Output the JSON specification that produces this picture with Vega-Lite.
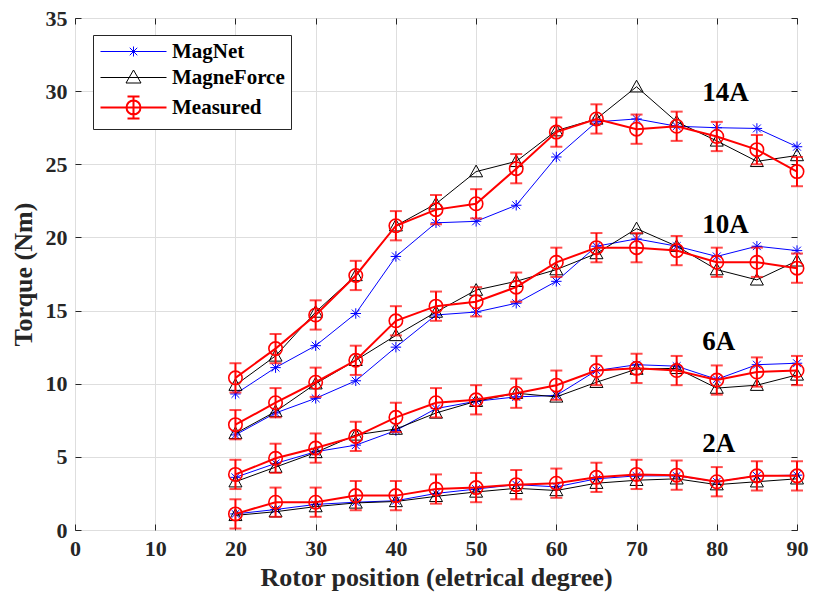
{
  "$schema": "https://vega.github.io/schema/vega-lite/v6.json",
  "width": 722,
  "height": 512,
  "autosize": {"type": "none"},
  "padding": {"left": 75, "top": 18, "right": 20, "bottom": 72},
  "background": "white",
  "config": {
    "view": {"stroke": "#262626", "strokeWidth": 1},
    "axis": {
      "labelFont": "Liberation Serif",
      "labelFontWeight": "bold",
      "labelFontSize": 22,
      "labelColor": "#262626",
      "titleFont": "Liberation Serif",
      "titleFontWeight": "bold",
      "titleFontSize": 26,
      "titleColor": "#262626",
      "gridColor": "#dedede",
      "gridWidth": 1,
      "domainColor": "#262626",
      "tickColor": "#262626"
    }
  },
  "datasets": {
    "torque": [
      {"c": "14A", "x": 20, "MagNet": 9.3, "MagneForce": 9.9, "Measured": 10.4, "e": 1.0},
      {"c": "14A", "x": 25, "MagNet": 11.1, "MagneForce": 11.9, "Measured": 12.4, "e": 1.0},
      {"c": "14A", "x": 30, "MagNet": 12.6, "MagneForce": 14.9, "Measured": 14.7, "e": 1.0},
      {"c": "14A", "x": 35, "MagNet": 14.8, "MagneForce": 17.4, "Measured": 17.4, "e": 1.0},
      {"c": "14A", "x": 40, "MagNet": 18.7, "MagneForce": 20.8, "Measured": 20.8, "e": 1.0},
      {"c": "14A", "x": 45, "MagNet": 21.0, "MagneForce": 22.3, "Measured": 21.9, "e": 1.0},
      {"c": "14A", "x": 50, "MagNet": 21.1, "MagneForce": 24.5, "Measured": 22.3, "e": 1.0},
      {"c": "14A", "x": 55, "MagNet": 22.2, "MagneForce": 25.2, "Measured": 24.7, "e": 1.0},
      {"c": "14A", "x": 60, "MagNet": 25.5, "MagneForce": 27.3, "Measured": 27.2, "e": 1.0},
      {"c": "14A", "x": 65, "MagNet": 27.9, "MagneForce": 28.1, "Measured": 28.1, "e": 1.0},
      {"c": "14A", "x": 70, "MagNet": 28.1, "MagneForce": 30.3, "Measured": 27.4, "e": 1.0},
      {"c": "14A", "x": 75, "MagNet": 27.6, "MagneForce": 27.9, "Measured": 27.6, "e": 1.0},
      {"c": "14A", "x": 80, "MagNet": 27.5, "MagneForce": 26.6, "Measured": 26.9, "e": 1.0},
      {"c": "14A", "x": 85, "MagNet": 27.45, "MagneForce": 25.2, "Measured": 26.0, "e": 1.0},
      {"c": "14A", "x": 90, "MagNet": 26.2, "MagneForce": 25.6, "Measured": 24.5, "e": 1.0},
      {"c": "10A", "x": 20, "MagNet": 6.5, "MagneForce": 6.6, "Measured": 7.2, "e": 1.0},
      {"c": "10A", "x": 25, "MagNet": 8.0, "MagneForce": 8.1, "Measured": 8.7, "e": 1.0},
      {"c": "10A", "x": 30, "MagNet": 9.0, "MagneForce": 10.0, "Measured": 10.1, "e": 1.0},
      {"c": "10A", "x": 35, "MagNet": 10.2, "MagneForce": 11.6, "Measured": 11.6, "e": 1.0},
      {"c": "10A", "x": 40, "MagNet": 12.5, "MagneForce": 13.3, "Measured": 14.3, "e": 1.0},
      {"c": "10A", "x": 45, "MagNet": 14.7, "MagneForce": 14.9, "Measured": 15.3, "e": 1.0},
      {"c": "10A", "x": 50, "MagNet": 14.9, "MagneForce": 16.4, "Measured": 15.6, "e": 1.0},
      {"c": "10A", "x": 55, "MagNet": 15.5, "MagneForce": 17.0, "Measured": 16.6, "e": 1.0},
      {"c": "10A", "x": 60, "MagNet": 17.0, "MagneForce": 17.8, "Measured": 18.3, "e": 1.0},
      {"c": "10A", "x": 65, "MagNet": 19.4, "MagneForce": 18.9, "Measured": 19.3, "e": 1.0},
      {"c": "10A", "x": 70, "MagNet": 19.9, "MagneForce": 20.6, "Measured": 19.3, "e": 1.0},
      {"c": "10A", "x": 75, "MagNet": 19.4, "MagneForce": 19.4, "Measured": 19.1, "e": 1.0},
      {"c": "10A", "x": 80, "MagNet": 18.7, "MagneForce": 17.8, "Measured": 18.3, "e": 1.0},
      {"c": "10A", "x": 85, "MagNet": 19.4, "MagneForce": 17.1, "Measured": 18.3, "e": 1.0},
      {"c": "10A", "x": 90, "MagNet": 19.1, "MagneForce": 18.4, "Measured": 17.9, "e": 1.0},
      {"c": "6A", "x": 20, "MagNet": 3.6, "MagneForce": 3.3, "Measured": 3.8, "e": 1.0},
      {"c": "6A", "x": 25, "MagNet": 4.55, "MagneForce": 4.3, "Measured": 4.9, "e": 1.0},
      {"c": "6A", "x": 30, "MagNet": 5.35, "MagneForce": 5.3, "Measured": 5.6, "e": 1.0},
      {"c": "6A", "x": 35, "MagNet": 5.8, "MagneForce": 6.5, "Measured": 6.4, "e": 1.0},
      {"c": "6A", "x": 40, "MagNet": 6.8, "MagneForce": 6.9, "Measured": 7.7, "e": 1.0},
      {"c": "6A", "x": 45, "MagNet": 8.3, "MagneForce": 8.0, "Measured": 8.7, "e": 1.0},
      {"c": "6A", "x": 50, "MagNet": 8.8, "MagneForce": 8.8, "Measured": 8.9, "e": 1.0},
      {"c": "6A", "x": 55, "MagNet": 9.1, "MagneForce": 9.35, "Measured": 9.35, "e": 1.0},
      {"c": "6A", "x": 60, "MagNet": 9.2, "MagneForce": 9.1, "Measured": 9.9, "e": 1.0},
      {"c": "6A", "x": 65, "MagNet": 10.9, "MagneForce": 10.1, "Measured": 10.9, "e": 1.0},
      {"c": "6A", "x": 70, "MagNet": 11.3, "MagneForce": 11.0, "Measured": 11.05, "e": 1.0},
      {"c": "6A", "x": 75, "MagNet": 11.2, "MagneForce": 11.05, "Measured": 10.9, "e": 1.0},
      {"c": "6A", "x": 80, "MagNet": 10.3, "MagneForce": 9.7, "Measured": 10.25, "e": 1.0},
      {"c": "6A", "x": 85, "MagNet": 11.3, "MagneForce": 9.9, "Measured": 10.8, "e": 1.0},
      {"c": "6A", "x": 90, "MagNet": 11.4, "MagneForce": 10.6, "Measured": 10.9, "e": 1.0},
      {"c": "2A", "x": 20, "MagNet": 1.1, "MagneForce": 1.0, "Measured": 1.1, "e": 1.0},
      {"c": "2A", "x": 25, "MagNet": 1.4, "MagneForce": 1.25, "Measured": 1.9, "e": 1.0},
      {"c": "2A", "x": 30, "MagNet": 1.75, "MagneForce": 1.6, "Measured": 1.9, "e": 1.0},
      {"c": "2A", "x": 35, "MagNet": 1.9, "MagneForce": 1.85, "Measured": 2.35, "e": 1.0},
      {"c": "2A", "x": 40, "MagNet": 2.0, "MagneForce": 1.95, "Measured": 2.35, "e": 1.0},
      {"c": "2A", "x": 45, "MagNet": 2.5, "MagneForce": 2.3, "Measured": 2.8, "e": 1.0},
      {"c": "2A", "x": 50, "MagNet": 2.8, "MagneForce": 2.6, "Measured": 2.9, "e": 1.0},
      {"c": "2A", "x": 55, "MagNet": 3.1, "MagneForce": 2.85, "Measured": 3.1, "e": 1.0},
      {"c": "2A", "x": 60, "MagNet": 2.95, "MagneForce": 2.7, "Measured": 3.2, "e": 1.0},
      {"c": "2A", "x": 65, "MagNet": 3.5, "MagneForce": 3.2, "Measured": 3.6, "e": 1.0},
      {"c": "2A", "x": 70, "MagNet": 3.7, "MagneForce": 3.4, "Measured": 3.8, "e": 1.0},
      {"c": "2A", "x": 75, "MagNet": 3.7, "MagneForce": 3.5, "Measured": 3.75, "e": 1.0},
      {"c": "2A", "x": 80, "MagNet": 3.3, "MagneForce": 3.1, "Measured": 3.3, "e": 1.0},
      {"c": "2A", "x": 85, "MagNet": 3.7, "MagneForce": 3.3, "Measured": 3.7, "e": 1.0},
      {"c": "2A", "x": 90, "MagNet": 3.75, "MagneForce": 3.5, "Measured": 3.7, "e": 1.0}
    ],
    "labels": [
      {"label": "14A", "x": 78.2, "y": 29.9},
      {"label": "10A", "x": 78.2, "y": 20.85},
      {"label": "6A", "x": 78.2, "y": 12.87},
      {"label": "2A", "x": 78.2, "y": 5.9}
    ]
  },
  "resolve": {"axis": {"x": "independent", "y": "independent"}},
  "layer": [
    {
      "data": {"name": "torque"},
      "transform": [{"fold": ["MagNet", "MagneForce", "Measured"], "as": ["series", "y"]}, {"filter": "datum.series === 'MagNet'"}],
      "mark": {"type": "line", "strokeWidth": 1},
      "encoding": {
        "x": {"field": "x", "type": "quantitative", "scale": {"domain": [0, 90], "nice": false},
          "axis": {"values": [0, 10, 20, 30, 40, 50, 60, 70, 80, 90], "title": "Rotor position (eletrical degree)", "tickSize": -6, "labelPadding": 14, "titlePadding": 5, "domain": false, "labelFlush": false}},
        "y": {"field": "y", "type": "quantitative", "scale": {"domain": [0, 35], "nice": false},
          "axis": {"values": [0, 5, 10, 15, 20, 25, 30, 35], "title": "Torque (Nm)", "tickSize": -6, "labelPadding": 14, "titlePadding": 9, "domain": false}},
        "color": {"field": "series", "type": "nominal", "scale": {"domain": ["MagNet", "MagneForce", "Measured"], "range": ["#0000ff", "#000000", "#ff0000"]},
          "legend": {
            "title": null, "orient": "none", "legendX": 18, "legendY": 17,
            "strokeColor": "#262626", "fillColor": "white", "padding": 6,
            "labelFont": "Liberation Serif", "labelFontSize": 21, "labelFontWeight": "bold", "labelColor": "#000000",
            "symbolOffset": 24, "labelOffset": 28, "rowPadding": 4, "symbolSize": 100,
            "encode": {"symbols": {"update": {
              "shape": {"signal": "datum.value === 'MagNet' ? 'M-6.6,0L6.6,0M0,-1L0,1M-0.75,-0.75L0.75,0.75M-0.75,0.75L0.75,-0.75' : datum.value === 'MagneForce' ? 'M-6.6,0L6.6,0M-1.5,1.1L0,-1.5L1.5,1.1Z' : 'M-6.6,0L6.6,0M0,-2.2L0,2.2M-1.2,-2.2L1.2,-2.2M-1.2,2.2L1.2,2.2M-1.4,0A1.4,1.4 0 1,0 1.4,0A1.4,1.4 0 1,0 -1.4,0Z'"},
              "strokeWidth": {"signal": "datum.value === 'Measured' ? 2 : 1"},
              "stroke": {"signal": "datum.value === 'MagNet' ? '#0000ff' : datum.value === 'MagneForce' ? '#000000' : '#ff0000'"},
              "fill": {"value": "transparent"},
              "size": {"value": 100},
              "opacity": {"value": 1}
            }}}
          }},
        "detail": {"field": "c"}
      }
    },
    {
      "data": {"name": "torque"},
      "transform": [{"fold": ["MagNet", "MagneForce", "Measured"], "as": ["series", "y"]}, {"filter": "datum.series === 'MagNet'"}],
      "mark": {"type": "point", "filled": false, "opacity": 1, "color": "#0000ff", "strokeWidth": 1, "size": 110,
        "shape": "M0,-1L0,1M-1,0L1,0M-0.75,-0.75L0.75,0.75M-0.75,0.75L0.75,-0.75"},
      "encoding": {
        "x": {"field": "x", "type": "quantitative", "axis": null},
        "y": {"field": "y", "type": "quantitative", "axis": null}
      }
    },
    {
      "data": {"name": "torque"},
      "transform": [{"fold": ["MagNet", "MagneForce", "Measured"], "as": ["series", "y"]}, {"filter": "datum.series === 'MagneForce'"}],
      "mark": {"type": "line", "strokeWidth": 1},
      "encoding": {
        "x": {"field": "x", "type": "quantitative", "axis": null},
        "y": {"field": "y", "type": "quantitative", "axis": null},
        "color": {"field": "series", "type": "nominal"},
        "detail": {"field": "c"}
      }
    },
    {
      "data": {"name": "torque"},
      "transform": [{"fold": ["MagNet", "MagneForce", "Measured"], "as": ["series", "y"]}, {"filter": "datum.series === 'MagneForce'"}],
      "mark": {"type": "point", "filled": false, "opacity": 1, "color": "#000000", "strokeWidth": 1, "size": 169,
        "shape": "M-1,0.8L0,-1L1,0.8Z"},
      "encoding": {
        "x": {"field": "x", "type": "quantitative", "axis": null},
        "y": {"field": "y", "type": "quantitative", "axis": null}
      }
    },
    {
      "data": {"name": "torque"},
      "transform": [{"fold": ["MagNet", "MagneForce", "Measured"], "as": ["series", "y"]}, {"filter": "datum.series === 'Measured'"}],
      "mark": {"type": "line", "strokeWidth": 2},
      "encoding": {
        "x": {"field": "x", "type": "quantitative", "axis": null},
        "y": {"field": "y", "type": "quantitative", "axis": null},
        "color": {"field": "series", "type": "nominal"},
        "detail": {"field": "c"}
      }
    },
    {
      "data": {"name": "torque"},
      "mark": {"type": "errorbar", "ticks": {"size": 12}, "thickness": 2, "color": "#ff0000"},
      "encoding": {
        "x": {"field": "x", "type": "quantitative", "axis": null},
        "y": {"field": "Measured", "type": "quantitative", "axis": null},
        "yError": {"field": "e"}
      }
    },
    {
      "data": {"name": "torque"},
      "transform": [{"fold": ["MagNet", "MagneForce", "Measured"], "as": ["series", "y"]}, {"filter": "datum.series === 'Measured'"}],
      "mark": {"type": "point", "filled": false, "opacity": 1, "color": "#ff0000", "strokeWidth": 1.6, "size": 180, "shape": "circle"},
      "encoding": {
        "x": {"field": "x", "type": "quantitative", "axis": null},
        "y": {"field": "y", "type": "quantitative", "axis": null}
      }
    },
    {
      "data": {"name": "labels"},
      "mark": {"type": "text", "font": "Liberation Serif", "fontWeight": "bold", "fontSize": 27, "align": "left", "baseline": "middle", "color": "#000000"},
      "encoding": {
        "x": {"field": "x", "type": "quantitative", "axis": {"orient": "top", "labels": false, "title": null, "grid": false, "domain": false, "tickSize": -6, "values": [0, 10, 20, 30, 40, 50, 60, 70, 80, 90]}},
        "y": {"field": "y", "type": "quantitative", "axis": {"orient": "right", "labels": false, "title": null, "grid": false, "domain": false, "tickSize": -6, "values": [0, 5, 10, 15, 20, 25, 30, 35]}},
        "text": {"field": "label"}
      }
    }
  ]
}
